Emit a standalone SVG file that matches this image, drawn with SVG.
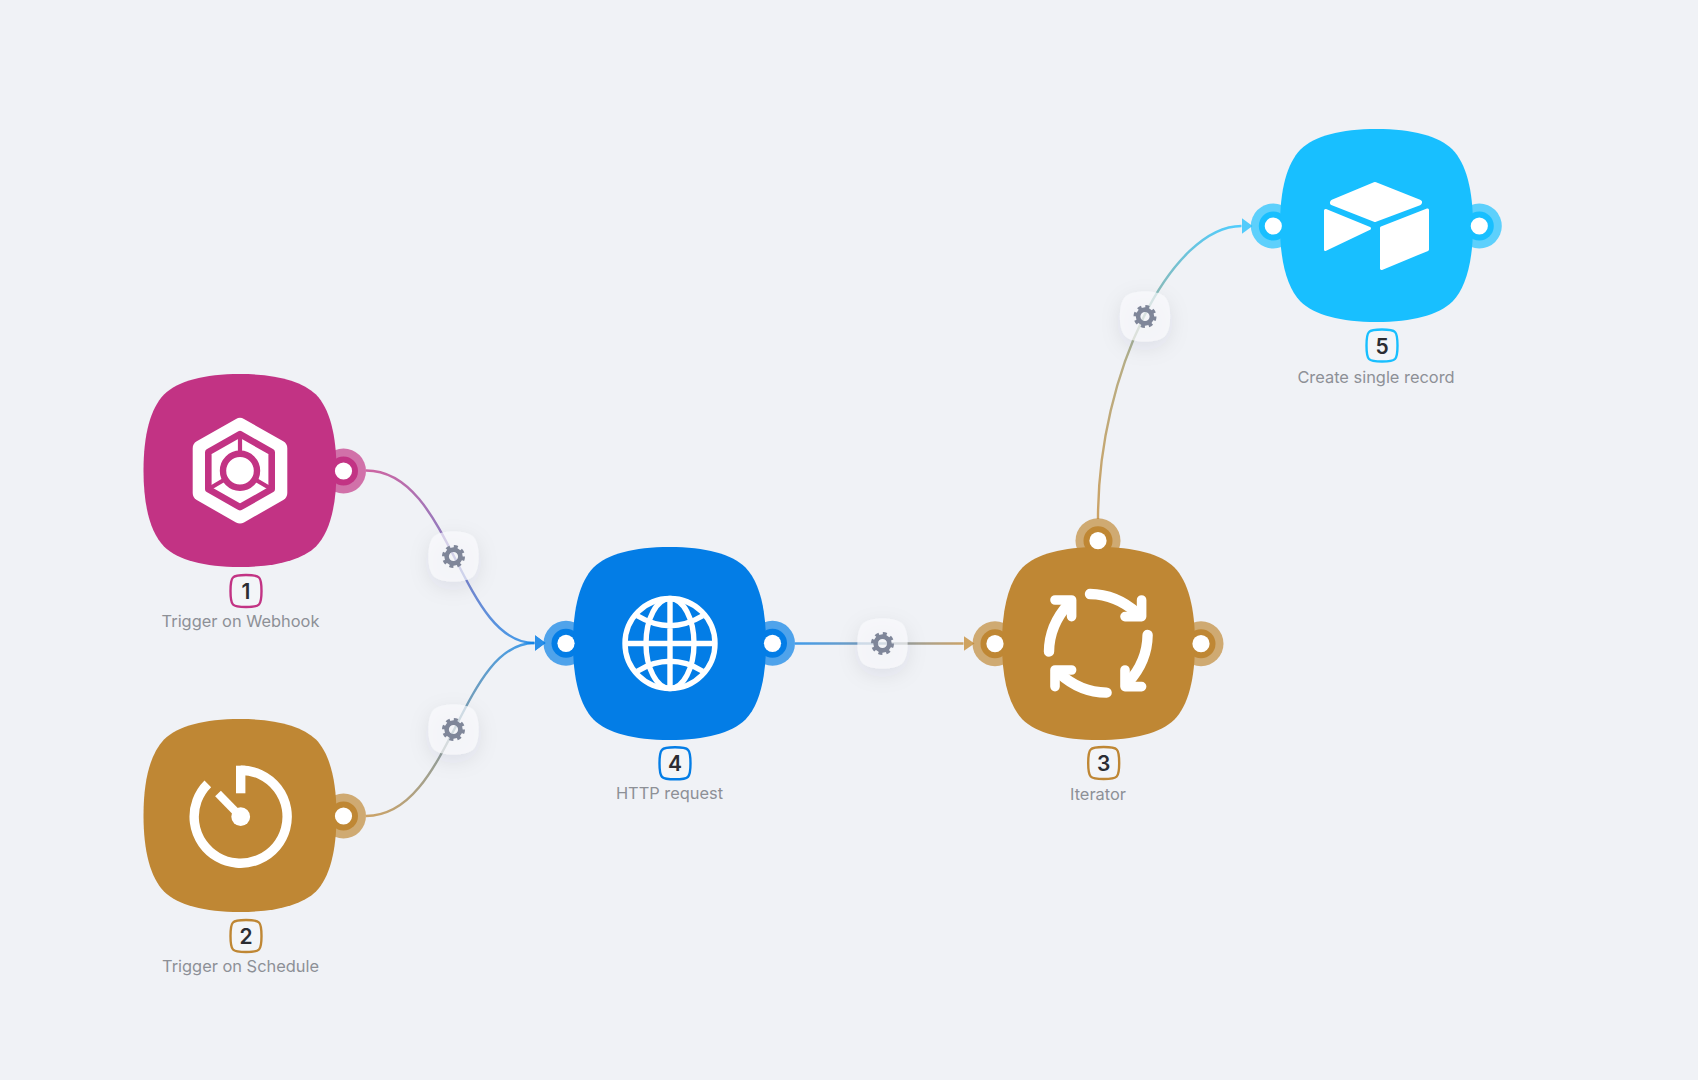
<svg xmlns="http://www.w3.org/2000/svg" width="1698" height="1080" viewBox="0 0 1698 1080">
<style>
text{font-family:Inter,"Noto Sans","Liberation Sans",sans-serif}
.lbl{font-size:16.4px;fill:#8d9096;text-anchor:middle}
.num{font-size:21px;font-weight:600;fill:#2b2d33;text-anchor:middle}
.badge{fill:#f3f5f8;stroke-width:2.4}
.halo{opacity:.68}
.dot{fill:#fff}
.wire{fill:none;stroke-width:2.4;stroke-opacity:.74}
.btn{fill:#fafbfd;fill-opacity:.66}
.gear{fill:none;stroke:#7f8699}
.pink{fill:#c23384;stroke:#c23384}
.gold{fill:#bf8734;stroke:#bf8734}
.blue{fill:#037de6;stroke:#037de6}
.sky{fill:#18bfff;stroke:#18bfff}
.body{stroke:none}
.hw{fill:none;stroke:#fff;stroke-linecap:round;stroke-linejoin:round}
</style>
<defs>
<path id="blob" d="M0,-96.5C36,-96.5 62,-89.5 76,-76C89.5,-62 96.5,-36 96.5,0C96.5,36 89.5,62 76,76C62,89.5 36,96.5 0,96.5C-36,96.5 -62,89.5 -76,76C-89.5,62 -96.5,36 -96.5,0C-96.5,-36 -89.5,-62 -76,-76C-62,-89.5 -36,-96.5 0,-96.5Z"/>
<path id="tag" d="M0,-16C7,-16 11,-15.6 13,-13.5C15,-11.5 15.5,-7 15.5,0C15.5,7 15,11.5 13,13.5C11,15.6 7,16 0,16C-7,16 -11,15.6 -13,13.5C-15,11.5 -15.5,7 -15.5,0C-15.5,-7 -15,-11.5 -13,-13.5C-11,-15.6 -7,-16 0,-16Z"/>
<g id="handle">
<circle class="halo" r="22.5" stroke="none"/>
<circle r="14.5" stroke="none"/>
</g>
<circle id="hole" class="dot" r="8.6"/>
<g id="gearicon">
<circle class="gear" r="6.9" stroke-width="4.6"/>
<circle class="gear" r="9.8" stroke-width="3.4" stroke-dasharray="3.9 3.8"/>
</g>
<g id="arrowcurve">
<path class="hw" stroke-width="10.4" d="M-8.3,-49.3Q18,-49 39,-30"/>
<path class="hw" stroke-width="9.6" d="M43.3,-43.3V-26.7H26.7"/>
</g>
<filter id="soft" x="-100%" y="-100%" width="300%" height="300%"><feDropShadow dx="0" dy="6" stdDeviation="10" flood-color="#1a2340" flood-opacity=".13"/></filter>
<linearGradient id="g1" gradientUnits="userSpaceOnUse" x1="366" y1="470" x2="535" y2="643"><stop offset="0" stop-color="#c23384"/><stop offset="1" stop-color="#037de6"/></linearGradient>
<linearGradient id="g2" gradientUnits="userSpaceOnUse" x1="366" y1="816" x2="535" y2="643"><stop offset="0" stop-color="#bf8734"/><stop offset="1" stop-color="#037de6"/></linearGradient>
<linearGradient id="g3" gradientUnits="userSpaceOnUse" x1="795" y1="0" x2="964" y2="0"><stop offset="0" stop-color="#037de6"/><stop offset=".5" stop-color="#5f82a0"/><stop offset="1" stop-color="#bf8734"/></linearGradient>
<linearGradient id="g4" gradientUnits="userSpaceOnUse" x1="1098" y1="519" x2="1242" y2="226"><stop offset="0" stop-color="#bf8734"/><stop offset=".45" stop-color="#a5945a"/><stop offset="1" stop-color="#18bfff"/></linearGradient>
<marker id="mBlue" markerUnits="userSpaceOnUse" markerWidth="12" markerHeight="18" refX="0" refY="9" orient="auto"><path d="M0,1L11,9L0,17Z" fill="#2a8fe9"/></marker>
<marker id="mGold" markerUnits="userSpaceOnUse" markerWidth="12" markerHeight="18" refX="0" refY="9" orient="auto"><path d="M0,1.5L11,9L0,16.5Z" fill="#cfa360"/></marker>
<marker id="mSky" markerUnits="userSpaceOnUse" markerWidth="12" markerHeight="18" refX="0" refY="9" orient="auto"><path d="M0,1L11,9L0,17Z" fill="#52cbfb"/></marker>
</defs>
<rect width="1698" height="1080" fill="#f0f2f6"/>
<g id="connectors">
<path class="wire" stroke="url(#g1)" marker-end="url(#mBlue)" d="M366,470.5C451,470.5 460,643 534.5,643"/>
<path class="wire" stroke="url(#g2)" marker-end="url(#mBlue)" d="M366,816C451,816 460,643 534.5,643"/>
<path class="wire" stroke="url(#g3)" marker-end="url(#mGold)" d="M795,643.5H963.5"/>
<path class="wire" stroke="url(#g4)" marker-end="url(#mSky)" d="M1098,519C1098,371 1172,226 1241.5,226"/>
</g>
<g id="settings-1-4" transform="translate(453.5,556.5)"><g filter="url(#soft)"><use class="btn" href="#blob" transform="scale(.26)"/></g><use href="#gearicon"/></g>
<g id="settings-2-4" transform="translate(453.5,729.5)"><g filter="url(#soft)"><use class="btn" href="#blob" transform="scale(.26)"/></g><use href="#gearicon"/></g>
<g id="settings-4-3" transform="translate(882.5,643.5)"><g filter="url(#soft)"><use class="btn" href="#blob" transform="scale(.26)"/></g><use href="#gearicon"/></g>
<g id="settings-3-5" transform="translate(1145,316.5)"><g filter="url(#soft)"><use class="btn" href="#blob" transform="scale(.26)"/></g><use href="#gearicon"/></g>

<g id="node-1">
<use class="pink" href="#handle" x="343.5" y="471"/>
<use class="pink body" href="#blob" x="240" y="470.5"/>
<use href="#hole" x="343.5" y="471"/>
<g transform="translate(240,470.7)">
<path d="M0,-44.8L39.3,-22.4V22.4L0,44.8L-39.3,22.4V-22.4Z" fill="#fff" stroke="#fff" stroke-width="16" stroke-linejoin="round"/>
<path d="M0,-36.5L31.7,-18.5V18.5L0,36.5L-31.7,18.5V-18.5Z" fill="#fff" stroke="#c23384" stroke-width="6.6" stroke-linejoin="round"/>
<path d="M0,-36V-16M-31,18L-14,8M31,18L14,8" stroke="#c23384" stroke-width="4.2" fill="none"/>
<circle r="17" fill="#fff" stroke="#c23384" stroke-width="6.4"/>
</g>
<use class="badge" href="#tag" x="246" y="591" stroke="#c23384"/>
<text class="num" x="246" y="599">1</text>
<text class="lbl" x="240.5" y="627">Trigger on Webhook</text>
</g>

<g id="node-2">
<use class="gold" href="#handle" x="343.5" y="816"/>
<use class="gold body" href="#blob" x="240" y="815.5"/>
<use href="#hole" x="343.5" y="816"/>
<g fill="none" stroke="#fff">
<path stroke-width="9.4" d="M240.7,770.2A46.5,46.5 0 1 1 207.8,783.8"/>
<path stroke-width="9.4" d="M240.7,765.7V793.3"/>
<path stroke-width="8" d="M240.7,816.7L218,793.5"/>
</g>
<circle cx="240.7" cy="816.7" r="9.4" fill="#fff"/>
<use class="badge" href="#tag" x="246" y="936" stroke="#bf8734"/>
<text class="num" x="246" y="944">2</text>
<text class="lbl" x="240.5" y="972">Trigger on Schedule</text>
</g>

<g id="node-4">
<use class="blue" href="#handle" x="566" y="643.3"/>
<use class="blue" href="#handle" x="772.5" y="643.3"/>
<use class="blue body" href="#blob" x="669.5" y="643.5"/>
<use href="#hole" x="566" y="643.3"/>
<use href="#hole" x="772.5" y="643.3"/>
<g transform="translate(670,643.5)" fill="none" stroke="#fff" stroke-width="5.4">
<circle r="45"/>
<ellipse rx="24" ry="45"/>
<path d="M0,-45V45M-45,0H45M-32.7,-27.7Q0,-8 32.7,-27.7M-32.7,27.7Q0,8 32.7,27.7"/>
</g>
<use class="badge" href="#tag" x="675" y="763.3" stroke="#037de6"/>
<text class="num" x="675" y="771">4</text>
<text class="lbl" x="669.5" y="799.3">HTTP request</text>
</g>

<g id="node-3">
<use class="gold" href="#handle" x="995" y="643.7"/>
<use class="gold" href="#handle" x="1201" y="643.7"/>
<use class="gold" href="#handle" x="1098" y="540.7"/>
<use class="gold body" href="#blob" x="1098.5" y="643.5"/>
<use href="#hole" x="995" y="643.7"/>
<use href="#hole" x="1201" y="643.7"/>
<use href="#hole" x="1098" y="540.7"/>
<g transform="translate(1098.3,643.3)">
<use href="#arrowcurve"/>
<use href="#arrowcurve" transform="rotate(90)"/>
<use href="#arrowcurve" transform="rotate(180)"/>
<use href="#arrowcurve" transform="rotate(270)"/>
</g>
<use class="badge" href="#tag" x="1103.7" y="763" stroke="#bf8734"/>
<text class="num" x="1103.7" y="771">3</text>
<text class="lbl" x="1098" y="799.5">Iterator</text>
</g>

<g id="node-5">
<use class="sky" href="#handle" x="1273.3" y="226"/>
<use class="sky" href="#handle" x="1479.3" y="226"/>
<use class="sky body" href="#blob" x="1376.5" y="225.5"/>
<use href="#hole" x="1273.3" y="226"/>
<use href="#hole" x="1479.3" y="226"/>
<g fill="#fff" stroke="#fff" stroke-linejoin="round">
<path stroke-width="6" d="M1375,185L1419,202.5L1375,219L1333,202.5Z"/>
<path stroke-width="3" d="M1325.5,210.5L1369.5,228.5L1325.5,249.5Z"/>
<path stroke-width="3" d="M1381.5,228L1427.5,210V249.5L1381.5,268.5Z"/>
</g>
<use class="badge" href="#tag" x="1382" y="345.5" stroke="#18bfff"/>
<text class="num" x="1382" y="353.5">5</text>
<text class="lbl" x="1376" y="382.5">Create single record</text>
</g>
</svg>
